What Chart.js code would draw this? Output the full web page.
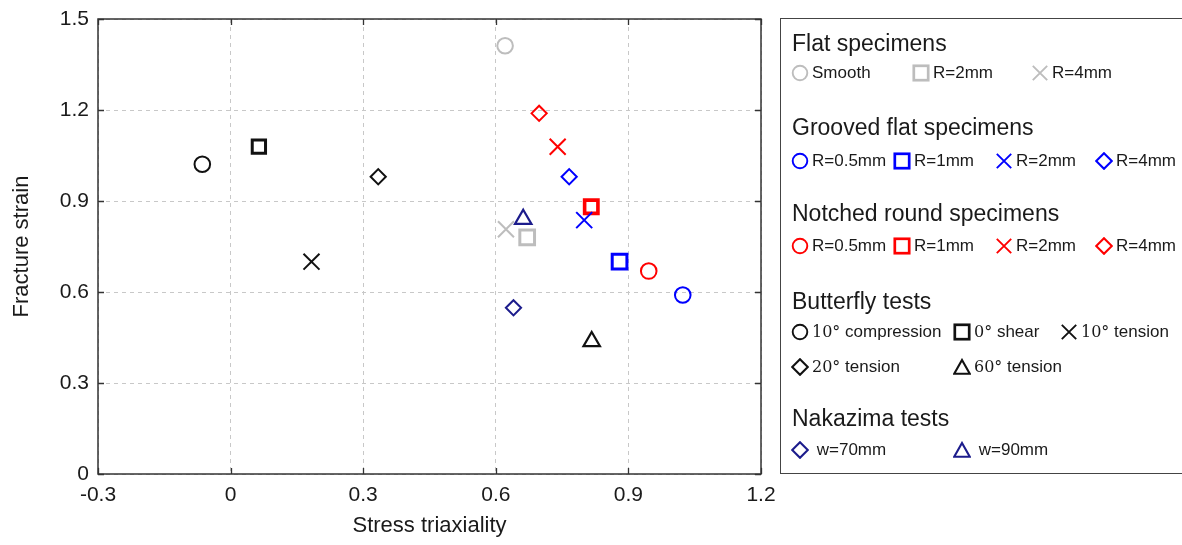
<!DOCTYPE html>
<html lang="en">
<head>
<meta charset="UTF-8">
<title>Fracture strain vs stress triaxiality</title>
<style>
  html, body { margin: 0; padding: 0; background: #fff; }
  body { width: 1182px; height: 545px; position: relative; overflow: hidden;
         font-family: "Liberation Sans", Arial, sans-serif; color: #1a1a1a; }
  #wrap { position: absolute; left: 0; top: 0; width: 1182px; height: 545px; }
  #legendBox { position: absolute; left: 780px; top: 18px; width: 440px; height: 456px;
               border: 1.5px solid #444; box-sizing: border-box; }
  .hd { position: absolute; font-size: 23px; line-height: 26px; white-space: nowrap; }
  .it { position: absolute; display: flex; align-items: center; height: 20px;
        font-size: 17px; white-space: nowrap; }
  .it svg { margin-right: 3px; flex: none; }
  .m { font-family: "DejaVu Serif", "Liberation Serif", serif; font-size: 16px; }
</style>
</head>
<body>
<div id="wrap"><canvas id="chart"></canvas></div>
<div id="legendBox"></div>

<script src="https://cdn.jsdelivr.net/npm/chart.js@4.4.0/dist/chart.umd.min.js"></script>
<script>
// ---- data ----
const xTicks = [-0.3, 0, 0.3, 0.6, 0.9, 1.2];
const yTicks = [0, 0.3, 0.6, 0.9, 1.2, 1.5];

// Flat specimens: Smooth, R=2mm, R=4mm
const flatX = [0.621, 0.671, 0.623];
const flatY = [1.412, 0.780, 0.807];
// Grooved flat specimens: R=0.5, 1, 2, 4 mm
const grooveX = [1.023, 0.880, 0.800, 0.766];
const grooveY = [0.590, 0.700, 0.837, 0.980];
// Notched round specimens: R=0.5, 1, 2, 4 mm
const notchX = [0.946, 0.816, 0.740, 0.698];
const notchY = [0.669, 0.881, 1.079, 1.189];
// Butterfly tests: 10 compression, 0 shear, 10 tension, 20 tension, 60 tension
const butterflyX = [-0.064, 0.064, 0.183, 0.334, 0.817];
const butterflyY = [1.021, 1.079, 0.700, 0.980, 0.437];
// Nakazima tests: w=70mm, w=90mm
const nakazimaX = [0.640, 0.662];
const nakazimaY = [0.548, 0.840];

const flatLabels = ['Smooth', 'R=2mm', 'R=4mm'];
const radiusLabels = ['R=0.5mm', 'R=1mm', 'R=2mm', 'R=4mm'];
const butterflyAngles = ['10°', '0°', '10°', '20°', '60°'];
const butterflyModes = ['compression', 'shear', 'tension', 'tension', 'tension'];
const nakazimaLabels = ['w=70mm', 'w=90mm'];

// ---- marker looks ----
const GRAY = '#bdbdbd', BLUE = '#0000ff', RED = '#ff0000', BLACK = '#111', NAVY = '#1c1c8c';
const sizeOf = { circle: 7.8, rect: 10.4, crossRot: 11.3, rectRot: 7.6, triangle: 9.5 };
const widthOf = { circle: 2, rect: 3, crossRot: 2, rectRot: 2, triangle: 2.2 };

const groups = [
  { name: 'Flat specimens', color: GRAY, xs: flatX, ys: flatY,
    styles: ['circle', 'rect', 'crossRot'], labels: flatLabels },
  { name: 'Grooved flat specimens', color: BLUE, xs: grooveX, ys: grooveY,
    styles: ['circle', 'rect', 'crossRot', 'rectRot'], labels: radiusLabels },
  { name: 'Notched round specimens', color: RED, xs: notchX, ys: notchY,
    styles: ['circle', 'rect', 'crossRot', 'rectRot'], labels: radiusLabels },
  { name: 'Butterfly tests', color: BLACK, xs: butterflyX, ys: butterflyY,
    styles: ['circle', 'rect', 'crossRot', 'rectRot', 'triangle'],
    labels: butterflyAngles.map((a, i) => '<span class="m">' + a + '</span>&nbsp;' + butterflyModes[i]) },
  { name: 'Nakazima tests', color: NAVY, xs: nakazimaX, ys: nakazimaY,
    styles: ['rectRot', 'triangle'], labels: nakazimaLabels.map(l => '&nbsp;' + l) }
];

const datasets = [];
groups.forEach(g => {
  g.styles.forEach((st, i) => {
    let r = sizeOf[st], w = widthOf[st];
    if (st === 'rect' && (g.color === BLACK || g.color === RED)) r = 9.4;
    if (st === 'rect' && g.color === RED) w = 3.6;
    datasets.push({
      label: g.name + ' ' + i,
      data: [{ x: g.xs[i], y: g.ys[i] }],
      pointStyle: st,
      pointRadius: r,
      pointHoverRadius: r,
      pointBorderWidth: w,
      borderColor: g.color,
      backgroundColor: 'rgba(0,0,0,0)',
      showLine: false
    });
  });
});

// frame and inward tick marks
const frameTicks = {
  id: 'frameTicks',
  afterDraw(chart) {
    const { ctx, chartArea: a, scales: { x, y } } = chart;
    ctx.save();
    ctx.strokeStyle = '#333';
    ctx.lineWidth = 1.3;
    ctx.beginPath();
    xTicks.forEach(v => {
      const p = Math.round(x.getPixelForValue(v)) + 0.5;
      ctx.moveTo(p, a.bottom); ctx.lineTo(p, a.bottom - 6);
      ctx.moveTo(p, a.top); ctx.lineTo(p, a.top + 6);
    });
    yTicks.forEach(v => {
      const p = Math.round(y.getPixelForValue(v)) + 0.5;
      ctx.moveTo(a.left, p); ctx.lineTo(a.left + 6, p);
      ctx.moveTo(a.right, p); ctx.lineTo(a.right - 6, p);
    });
    ctx.stroke();
    ctx.lineWidth = 1.5;
    ctx.strokeRect(a.left, a.top, a.right - a.left, a.bottom - a.top);
    ctx.restore();
  }
};

const tickFont = { family: '"Liberation Sans", Arial, sans-serif', size: 21 };
const titleFont = { family: '"Liberation Sans", Arial, sans-serif', size: 22 };

new Chart(document.getElementById('chart'), {
  type: 'scatter',
  data: { datasets },
  options: {
    responsive: true,
    maintainAspectRatio: false,
    animation: false,
    events: [],
    layout: { padding: { left: 0, top: 19, right: 421, bottom: 0 } },
    plugins: { legend: { display: false }, tooltip: { enabled: false } },
    scales: {
      x: {
        type: 'linear', min: -0.3, max: 1.2,
        afterBuildTicks: s => { s.ticks = xTicks.map(v => ({ value: v })); },
        afterFit: s => { s.height = 71; s.paddingLeft = 0; s.paddingRight = 0; },
        ticks: { font: tickFont, color: '#1a1a1a', padding: 9, maxRotation: 0,
                 callback: v => String(v) },
        grid: { color: '#c8c8c8', lineWidth: 1, drawTicks: false },
        border: { display: false, dash: [4, 4] },
        title: { display: true, text: 'Stress triaxiality', font: titleFont,
                 color: '#1a1a1a', padding: { top: 4, bottom: 6 } }
      },
      y: {
        type: 'linear', min: 0, max: 1.5,
        afterBuildTicks: s => { s.ticks = yTicks.map(v => ({ value: v })); },
        afterFit: s => { s.width = 98; s.paddingTop = 0; s.paddingBottom = 0; },
        ticks: { font: tickFont, color: '#1a1a1a', padding: 9,
                 callback: v => String(v) },
        grid: { color: '#c8c8c8', lineWidth: 1, drawTicks: false },
        border: { display: false, dash: [4, 4] },
        title: { display: true, text: 'Fracture strain', font: titleFont,
                 color: '#1a1a1a', padding: { top: 9, bottom: 4 } }
      }
    }
  },
  plugins: [frameTicks]
});

// ---- legend panel (HTML) ----
function icon(style, color, lw) {
  let shape = '';
  if (style === 'circle') shape = '<circle cx="9" cy="9" r="7.3"/>';
  else if (style === 'rect') shape = '<rect x="1.8" y="1.8" width="14.4" height="14.4"/>';
  else if (style === 'crossRot') shape = '<path d="M1.8 1.8L16.2 16.2M16.2 1.8L1.8 16.2"/>';
  else if (style === 'rectRot') shape = '<path d="M9 1.2L16.8 9L9 16.8L1.2 9Z"/>';
  else if (style === 'triangle') shape = '<path d="M9 2L16.8 15.8H1.2Z"/>';
  return '<svg width="18" height="18" viewBox="0 0 18 18"><g fill="none" stroke="' + color +
         '" stroke-width="' + lw + '">' + shape + '</g></svg>';
}

const headY = [43, 127, 213, 301, 418];
const itemPos = [
  [[791, 73], [912, 73], [1031, 73]],
  [[791, 161], [893, 161], [995, 161], [1095, 161]],
  [[791, 246], [893, 246], [995, 246], [1095, 246]],
  [[791, 332], [953, 332], [1060, 332], [791, 367], [953, 367]],
  [[791, 450], [953, 450]]
];
const legendLw = { circle: 1.9, rect: 2.7, crossRot: 1.9, rectRot: 2.1, triangle: 2.1 };

groups.forEach((g, gi) => {
  const h = document.createElement('div');
  h.className = 'hd';
  h.style.left = '792px';
  h.style.top = (headY[gi] - 13) + 'px';
  h.textContent = g.name;
  document.body.appendChild(h);
  g.styles.forEach((st, i) => {
    const [lx, ly] = itemPos[gi][i];
    const d = document.createElement('div');
    d.className = 'it';
    d.style.left = lx + 'px';
    d.style.top = (ly - 10) + 'px';
    d.innerHTML = icon(st, g.color, legendLw[st]) + '<span>' + g.labels[i] + '</span>';
    document.body.appendChild(d);
  });
});
</script>
</body>
</html>
